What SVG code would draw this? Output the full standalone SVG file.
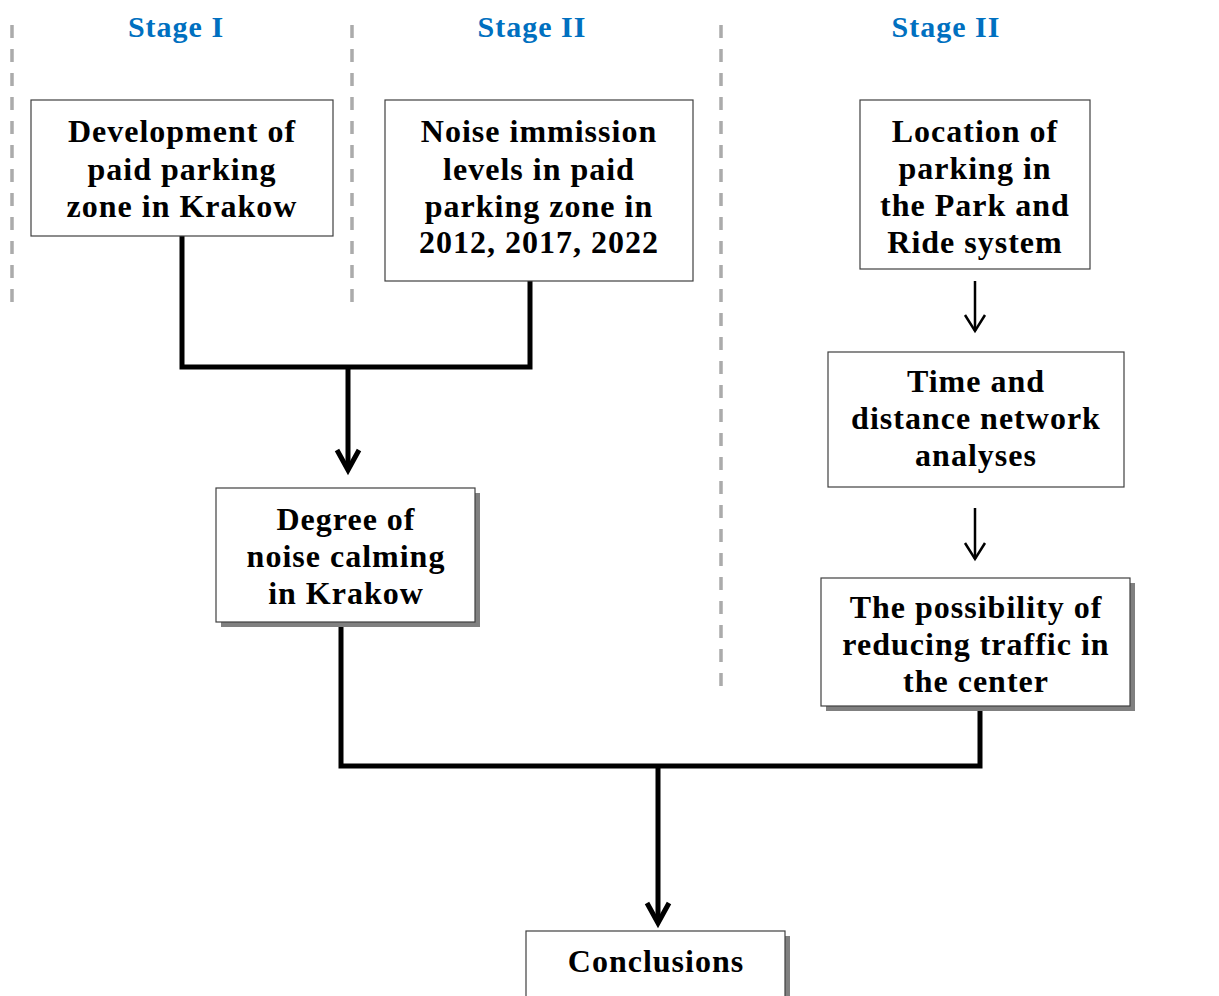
<svg xmlns="http://www.w3.org/2000/svg" width="1219" height="996" viewBox="0 0 1219 996">
<style>
.bg{fill:#ffffff}
.box{fill:#ffffff;stroke:#404040;stroke-width:1.2}
.shadow{fill:#808080}
.t{font-family:"Liberation Serif","Times New Roman",serif;font-weight:bold;font-size:32px;fill:#000;text-anchor:middle;letter-spacing:1px}
.stage{font-family:"Liberation Serif","Times New Roman",serif;font-weight:bold;font-size:30px;fill:#0070C0;text-anchor:middle;letter-spacing:1px}
.dash{stroke:#ababab;stroke-width:3.5;stroke-dasharray:13 11;fill:none}
.thick{stroke:#000;stroke-width:5;fill:none}
.thin{stroke:#000;stroke-width:2.5;fill:none}
</style>
<rect class="bg" x="0" y="0" width="1219" height="996"/>
<g id="dividers">
<line class="dash" x1="12" y1="25" x2="12" y2="312"/>
<line class="dash" x1="352" y1="25" x2="352" y2="312"/>
<line class="dash" x1="721" y1="25" x2="721" y2="688"/>
</g>
<g id="stage-labels">
<text class="stage" x="176" y="37">Stage I</text>
<text class="stage" x="532" y="37">Stage II</text>
<text class="stage" x="946" y="37">Stage II</text>
</g>
<g id="connectors">
<polyline class="thick" points="182,236 182,367 530,367 530,281"/>
<line class="thick" x1="348" y1="367" x2="348" y2="470"/>
<polyline class="thick" points="337,450 348,470 359,450"/>
<polyline class="thick" points="341,622 341,766 980,766 980,706"/>
<line class="thick" x1="658" y1="766" x2="658" y2="923"/>
<polyline class="thick" points="647,903 658,923 669,903"/>
<line class="thin" x1="975" y1="281" x2="975" y2="331"/>
<polyline class="thin" points="965,315 975,331 985,315"/>
<line class="thin" x1="975" y1="508" x2="975" y2="559"/>
<polyline class="thin" points="965,543 975,559 985,543"/>
</g>
<g id="node-development">
<rect class="box" x="31" y="100" width="302" height="136"/>
<text class="t" x="182" y="142">Development of</text>
<text class="t" x="182" y="180">paid parking</text>
<text class="t" x="182" y="217">zone in Krakow</text>
</g>
<g id="node-noise">
<rect class="box" x="385" y="100" width="308" height="181"/>
<text class="t" x="539" y="142">Noise immission</text>
<text class="t" x="539" y="180">levels in paid</text>
<text class="t" x="539" y="217">parking zone in</text>
<text class="t" x="539" y="253">2012, 2017, 2022</text>
</g>
<g id="node-location">
<rect class="box" x="860" y="100" width="230" height="169"/>
<text class="t" x="975" y="142">Location of</text>
<text class="t" x="975" y="179">parking in</text>
<text class="t" x="975" y="216">the Park and</text>
<text class="t" x="975" y="253">Ride system</text>
</g>
<g id="node-time">
<rect class="box" x="828" y="352" width="296" height="135"/>
<text class="t" x="976" y="392">Time and</text>
<text class="t" x="976" y="429">distance network</text>
<text class="t" x="976" y="466">analyses</text>
</g>
<g id="node-degree">
<rect class="shadow" x="221" y="493" width="259" height="134"/>
<rect class="box" x="216" y="488" width="259" height="134"/>
<text class="t" x="346" y="530">Degree of</text>
<text class="t" x="346" y="567">noise calming</text>
<text class="t" x="346" y="604">in Krakow</text>
</g>
<g id="node-possibility">
<rect class="shadow" x="826" y="583" width="309" height="128"/>
<rect class="box" x="821" y="578" width="309" height="128"/>
<text class="t" x="976" y="618">The possibility of</text>
<text class="t" x="976" y="655">reducing traffic in</text>
<text class="t" x="976" y="692">the center</text>
</g>
<g id="node-conclusions">
<rect class="shadow" x="531" y="936" width="259" height="70"/>
<rect class="box" x="526" y="931" width="259" height="75"/>
<text class="t" x="656" y="972">Conclusions</text>
</g>
</svg>
